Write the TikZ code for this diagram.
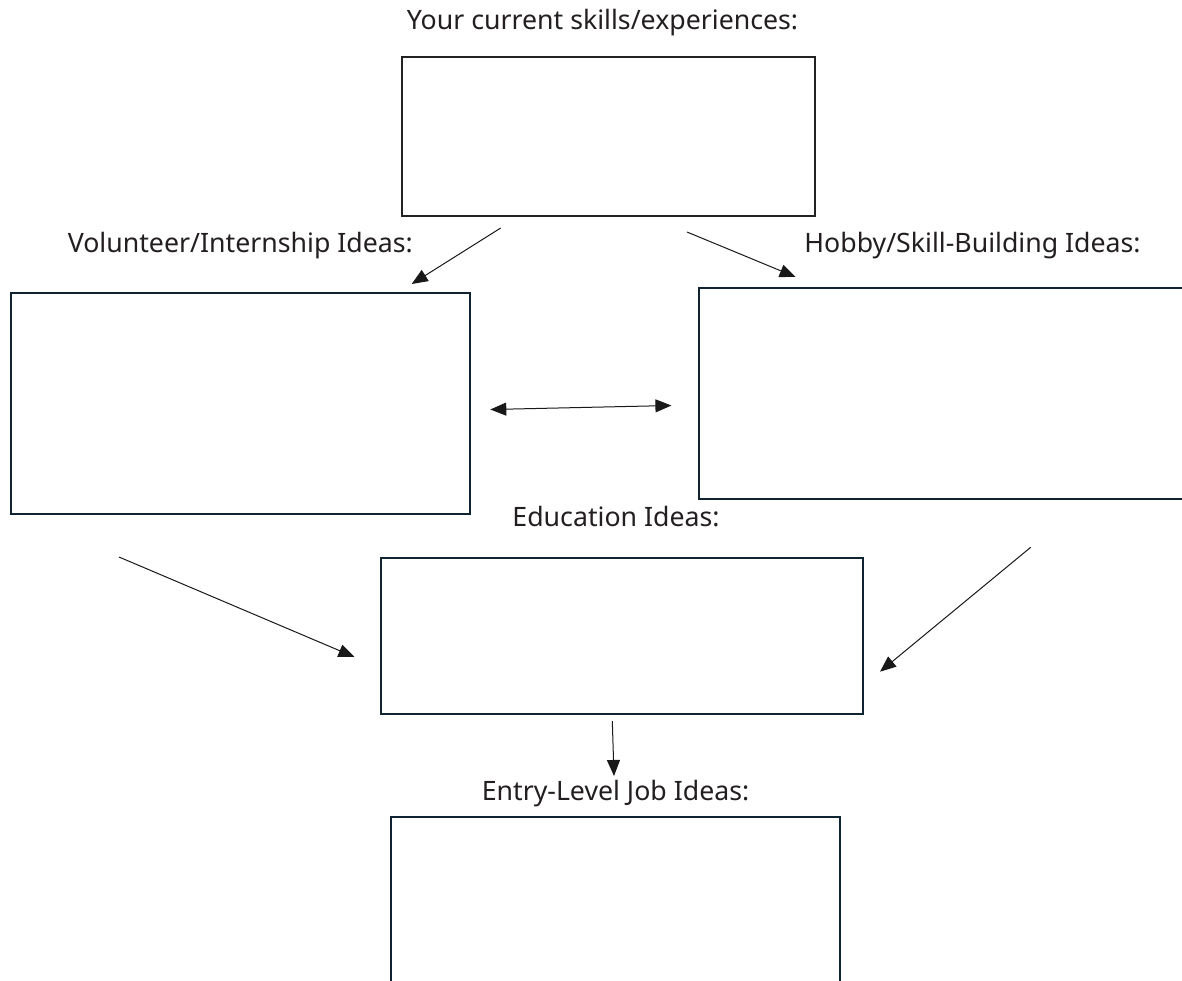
\documentclass[tikz,border=0pt]{standalone}
\usepackage{fontspec}
\setmainfont{Noto Sans}
\usetikzlibrary{arrows.meta}
\definecolor{navy}{HTML}{0E2433}
\definecolor{dgray}{HTML}{222222}
\definecolor{txt}{HTML}{231F20}
\tikzset{
  box/.style={draw=navy, line width=2.2pt, fill=white, rectangle, inner sep=0pt},
  topbox/.style={box, draw=dgray},
  lbl/.style={anchor=base, inner sep=0pt, text=txt, font=\fontsize{26.7}{30}\selectfont},
  conn/.style={draw=black!90, line width=1pt, -{Triangle[length=16pt,width=13pt]}},
  dconn/.style={draw=black!90, line width=1pt, {Triangle[length=16pt,width=13pt]}-{Triangle[length=16pt,width=13pt]}}
}
\begin{document}
\begin{tikzpicture}[x=1pt,y=-1pt]
\useasboundingbox (0,0) rectangle (1182,981);
\fill[white] (0,0) rectangle (1182,981);
\clip (0,0) rectangle (1182,981);
% boxes
\node[topbox, minimum width=413pt, minimum height=159pt, anchor=north west] (skills) at (400.5,56) {};
\node[box, minimum width=459pt, minimum height=221pt, anchor=north west] (vol) at (10,292) {};
\node[box, minimum width=520pt, minimum height=211pt, anchor=north west] (hobby) at (698,287) {};
\node[box, minimum width=482pt, minimum height=156pt, anchor=north west] (edu) at (379.5,557) {};
\node[box, minimum width=449pt, minimum height=200pt, anchor=north west] (job) at (390,816) {};
% labels
\node[lbl] (lskills) at (602.5,29.5) {Your current skills/experiences:};
\node[lbl] (lvol) at (240.3,252.3) {Volunteer/Internship Ideas:};
\node[lbl] (lhobby) at (972.5,252.3) {Hobby/Skill-Building Ideas:};
\node[lbl] (ledu) at (616,526) {Education Ideas:};
\node[lbl] (ljob) at (615.5,800) {Entry-Level Job Ideas:};
% connector end points
\coordinate (s1) at (500.7,228);
\coordinate (t1) at (411.7,284);
\coordinate (s2) at (687,232);
\coordinate (t2) at (795.7,277);
\coordinate (d1) at (490.3,409.5);
\coordinate (d2) at (671.4,405.5);
\coordinate (s3) at (119,557);
\coordinate (t3) at (354.5,657);
\coordinate (s4) at (1030.7,547.3);
\coordinate (t4) at (880,671.7);
\coordinate (s5) at (612.3,721);
\coordinate (t5) at (614,776);
% connectors
\draw[conn] (s1) -- (t1);
\draw[conn] (s2) -- (t2);
\draw[dconn] (d1) -- (d2);
\draw[conn] (s3) -- (t3);
\draw[conn] (s4) -- (t4);
\draw[conn] (s5) -- (t5);
\end{tikzpicture}
\end{document}
